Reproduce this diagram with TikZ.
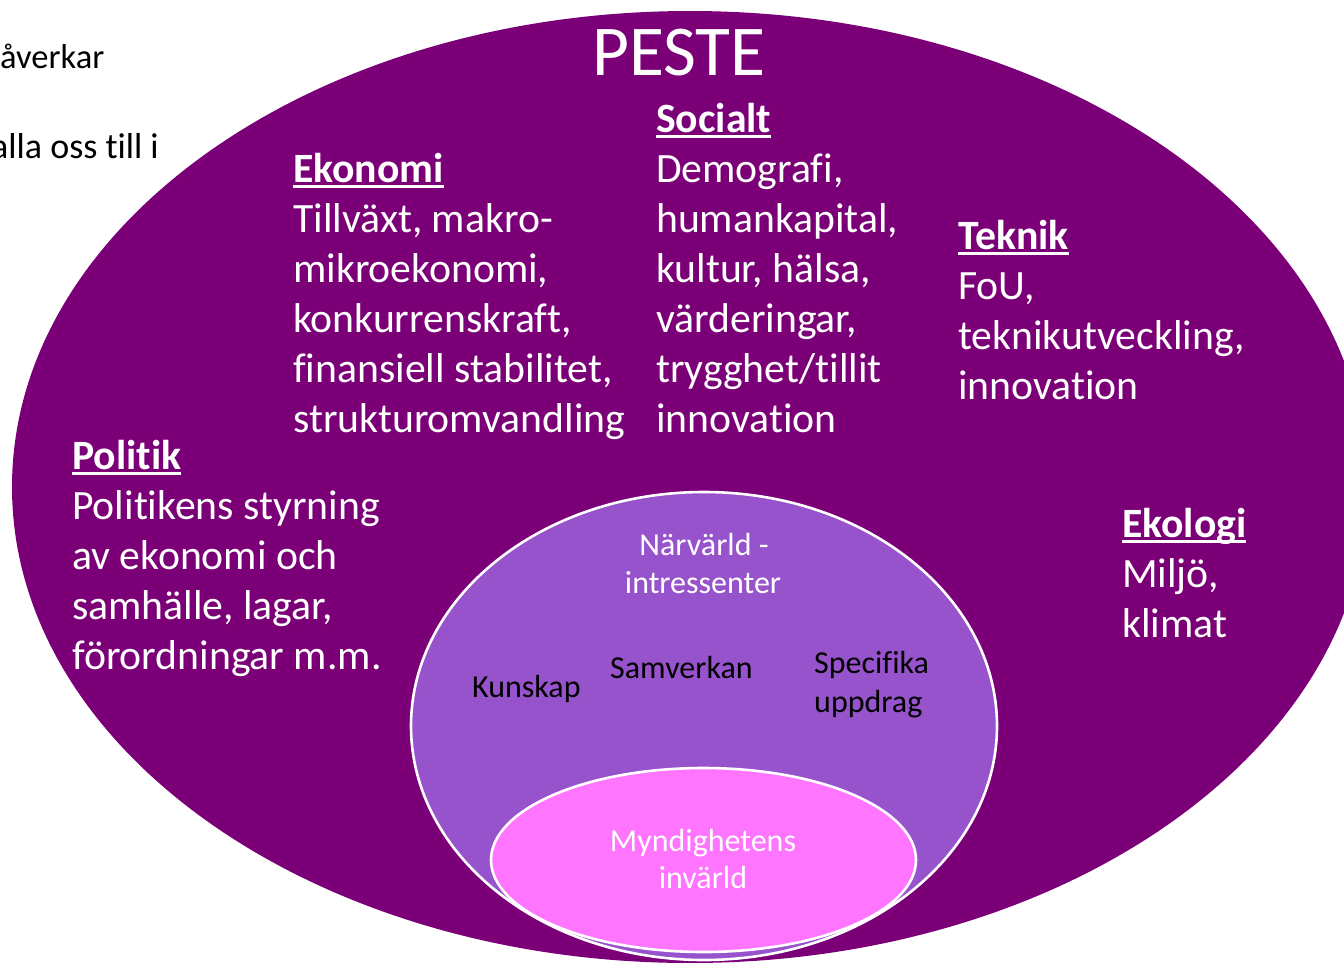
\documentclass[tikz,border=0pt]{standalone}
\usepackage{fontspec}
\setmainfont{Carlito}[Ligatures={NoCommon,NoContextual,NoRequired},Contextuals=NoAlternate]
\usetikzlibrary{shapes.geometric}
\definecolor{darkpurple}{HTML}{7B0078}
\definecolor{lightpurple}{HTML}{9753CB}
\definecolor{pinkfill}{HTML}{FF75FF}
\newcommand\zk{\kern0pt }
\newcommand\myhdr[1]{\setbox0\hbox{\bfseries #1}\rlap{\rule[-6pt]{\wd0}{2.6pt}}\box0}
\newcommand\mylines[1]{\begin{tabular}[t]{@{}l@{}}#1\end{tabular}}
\tikzset{
  block/.style={anchor=base west, inner sep=0pt, text=white, font=\fontsize{41.7}{50}\selectfont},
  inlabel/.style={anchor=base, inner sep=0pt, font=\fontsize{32}{39}\selectfont},
  sidetext/.style={anchor=base west, inner sep=0pt, text=black},
  ringline/.style={draw=white, line width=2.6pt}
}
\begin{document}
\begin{tikzpicture}[x=1pt,y=-1pt]
\useasboundingbox (0,0) rectangle (1344,962);
\fill[white] (0,0) rectangle (1344,962);
\clip (0,0) rectangle (1344,962);
% partial slide text at left
\node[sidetext, font=\fontsize{34.5}{41}\selectfont] (t1) at (0,68) {åverkar};
\node[sidetext, font=\fontsize{36}{43}\selectfont] (t2) at (-9,158) {alla oss t\zk ill i};
% ellipses
\node[ellipse, fill=darkpurple, inner sep=0pt, minimum width=1356pt, minimum height=952pt] (peste) at (690,487) {};
\node[ellipse, fill=lightpurple, ringline, inner sep=0pt, minimum width=586pt, minimum height=468pt] (narv) at (704,726) {};
\node[ellipse, fill=pinkfill, ringline, inner sep=0pt, minimum width=425pt, minimum height=184pt] (inv) at (703.5,860) {};
% title
\node[anchor=base west, inner sep=0pt, text=white, font=\fontsize{71.5}{85}\selectfont] (title) at (592,75) {PESTE};
% PESTE blocks
\node[block] (ekonomi) at (293,182) {\mylines{\myhdr{Ekonomi}\\ Tillväxt, makro-\\ mikroekonomi,\\ konkurrenskraf\zk t,\\ f\zk inansiell stabilitet,\\ strukturomvandling}};
\node[block] (socialt) at (656,132) {\mylines{\myhdr{Socialt}\\ Demograf\zk i,\\ humankapital,\\ kultur, hälsa,\\ värderingar,\\ trygghet/t\zk illit\\ innovat\zk ion}};
\node[block] (teknik) at (958,249) {\mylines{\myhdr{Teknik}\\ FoU,\\ teknikutveckling,\\ innovat\zk ion}};
\node[block] (politik) at (72,469) {\mylines{\myhdr{Polit\zk ik}\\ Polit\zk ikens styrning\\ av ekonomi och\\ samhälle, lagar,\\ förordningar m.m.}};
\node[block] (ekologi) at (1122,537) {\mylines{\myhdr{Ekologi}\\ Miljö,\\ klimat}};
% inner labels
\node[inlabel, text=white] (narv1) at (704,555) {Närvärld -};
\node[inlabel, text=white] (narv2) at (703,593) {intressenter};
\node[inlabel, anchor=base west, text=black] (kunskap) at (472,697) {Kunskap};
\node[inlabel, anchor=base west, text=black] (samverkan) at (610,678) {Samverkan};
\node[inlabel, anchor=base west, text=black] (spec1) at (814,673) {Specif\zk ika};
\node[inlabel, anchor=base west, text=black] (spec2) at (814,712) {uppdrag};
\node[inlabel, text=white] (myn1) at (703,851) {Myndighetens};
\node[inlabel, text=white] (myn2) at (703,888) {invärld};
\end{tikzpicture}
\end{document}
